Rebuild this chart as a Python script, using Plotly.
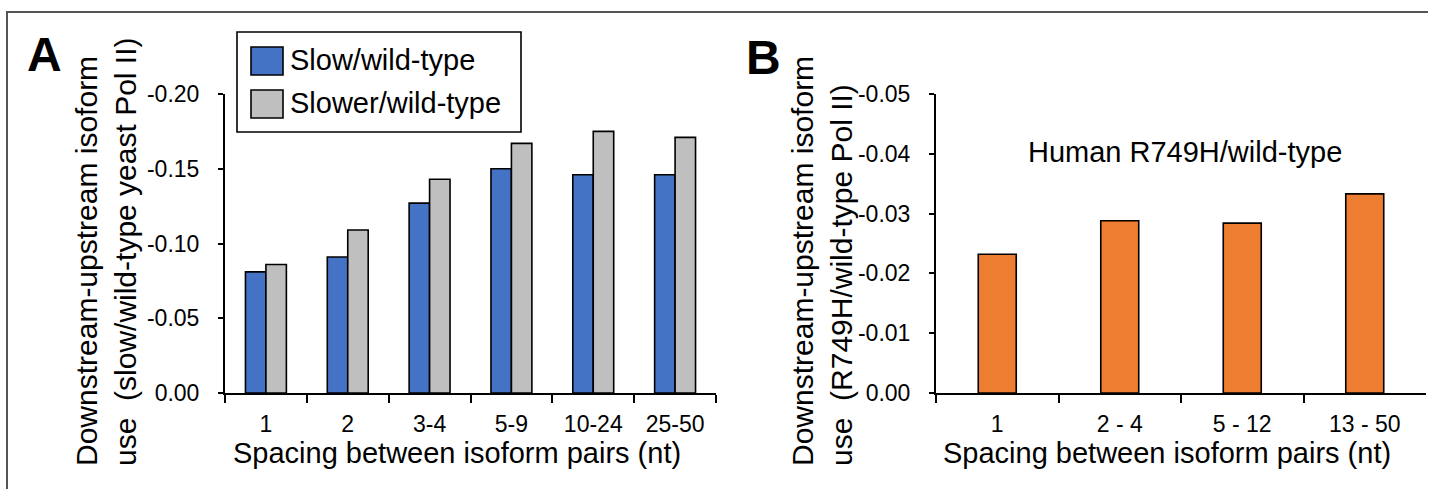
import plotly.graph_objects as go

W, H = 1434, 489

# ---------------- data ----------------
cats_a = ["1", "2", "3-4", "5-9", "10-24", "25-50"]
slow_name = "Slow/wild-type"
slower_name = "Slower/wild-type"
slow_vals = [-0.081, -0.091, -0.127, -0.150, -0.146, -0.146]
slower_vals = [-0.086, -0.109, -0.143, -0.167, -0.175, -0.171]
ticks_a = [0.0, -0.05, -0.10, -0.15, -0.20]
ticktext_a = ["0.00", "-0.05", "-0.10", "-0.15", "-0.20"]

cats_b = ["1", "2 - 4", "5 - 12", "13 - 50"]
human_name = "Human R749H/wild-type"
human_vals = [-0.0232, -0.0288, -0.0284, -0.0333]
ticks_b = [0.0, -0.01, -0.02, -0.03, -0.04, -0.05]
ticktext_b = ["0.00", "-0.01", "-0.02", "-0.03", "-0.04", "-0.05"]

BLUE = "#4472C4"
GRAY = "#BFBFBF"
ORANGE = "#ED7D31"
FONT = "Liberation Sans, Arial, Helvetica, sans-serif"


def px(x):
    return x / W


def py(y):
    return (H - y) / H


fig = go.Figure()
fig.add_trace(go.Bar(x=cats_a, y=slow_vals, name=slow_name, marker=dict(color=BLUE, line=dict(color="black", width=1.6)),
                     xaxis="x", yaxis="y", showlegend=False))
fig.add_trace(go.Bar(x=cats_a, y=slower_vals, name=slower_name, marker=dict(color=GRAY, line=dict(color="black", width=1.6)),
                     xaxis="x", yaxis="y", showlegend=False))
fig.add_trace(go.Bar(x=cats_b, y=human_vals, name=human_name, width=0.31,
                     marker=dict(color=ORANGE, line=dict(color="black", width=1.6)),
                     xaxis="x2", yaxis="y2", showlegend=False))

ydom = [py(393), py(94)]
axis_common = dict(showgrid=False, zeroline=False, showline=True, linecolor="black", linewidth=2,
                   ticks="outside", tickcolor="black", tickwidth=2, automargin=False,
                   tickfont=dict(family=FONT, size=23, color="black"))

fig.update_layout(
    width=W, height=H,
    margin=dict(l=0, r=0, t=0, b=0),
    paper_bgcolor="white", plot_bgcolor="white",
    barmode="group", bargap=0.5, bargroupgap=0,
    font=dict(family=FONT, color="black"),
    xaxis=dict(domain=[px(225), px(716)], anchor="y", type="category", tickson="boundaries",
               ticklen=8, ticklabelstandoff=9, **axis_common),
    yaxis=dict(domain=ydom, anchor="x", range=[0, -0.2], tickvals=ticks_a, ticktext=ticktext_a,
               ticklen=5, ticklabelstandoff=14, **axis_common),
    xaxis2=dict(domain=[px(936), px(1426)], anchor="y2", type="category", tickson="boundaries",
                ticklen=8, ticklabelstandoff=9, **axis_common),
    yaxis2=dict(domain=ydom, anchor="x2", range=[0, -0.05], tickvals=ticks_b, ticktext=ticktext_b,
                ticklen=5, ticklabelstandoff=14, **axis_common),
)

shapes = [
    # figure frame (top and left rules)
    dict(type="line", xref="paper", yref="paper", x0=px(6), x1=px(1428), y0=py(12), y1=py(12),
         line=dict(color="#555555", width=2)),
    dict(type="line", xref="paper", yref="paper", x0=px(7), x1=px(7), y0=py(12), y1=0,
         line=dict(color="#555555", width=2)),
    # legend box
    dict(type="rect", xref="paper", yref="paper", x0=px(237), x1=px(521), y0=py(132), y1=py(32),
         line=dict(color="black", width=1.6), fillcolor="white"),
    # legend swatches
    dict(type="rect", xref="paper", yref="paper", x0=px(251), x1=px(283), y0=py(75), y1=py(47),
         line=dict(color="black", width=1.6), fillcolor=BLUE),
    dict(type="rect", xref="paper", yref="paper", x0=px(251), x1=px(283), y0=py(118), y1=py(90),
         line=dict(color="black", width=1.6), fillcolor=GRAY),
]

ann = []
legend_font = dict(family=FONT, size=29, color="black")
title_font = dict(family=FONT, size=29, color="black")
ytitle_font = dict(family=FONT, size=30, color="black")
# panel letters
ann.append(dict(text="<b>A</b>", x=px(44), y=py(55), xref="paper", yref="paper", showarrow=False,
                font=dict(family=FONT, size=48, color="black"), xanchor="center", yanchor="middle"))
ann.append(dict(text="<b>B</b>", x=px(764), y=py(57), xref="paper", yref="paper", showarrow=False,
                font=dict(family=FONT, size=48, color="black"), xanchor="center", yanchor="middle"))
# legend labels
ann.append(dict(text=slow_name, x=px(288), y=py(60), xref="paper", yref="paper", showarrow=False,
                font=legend_font, xanchor="left", yanchor="middle"))
ann.append(dict(text=slower_name, x=px(288), y=py(103), xref="paper", yref="paper", showarrow=False,
                font=legend_font, xanchor="left", yanchor="middle"))
# panel B label
ann.append(dict(text=human_name, x=px(1185), y=py(152), xref="paper", yref="paper", showarrow=False,
                font=legend_font, xanchor="center", yanchor="middle"))
# x titles
ann.append(dict(text="Spacing between isoform pairs (nt)", x=px(457), y=py(453), xref="paper", yref="paper",
                showarrow=False, font=title_font, xanchor="center", yanchor="middle"))
ann.append(dict(text="Spacing between isoform pairs (nt)", x=px(1167), y=py(453), xref="paper", yref="paper",
                showarrow=False, font=title_font, xanchor="center", yanchor="middle"))
# y titles
ann.append(dict(text="Downstream-upstream isoform<br>use  (slow/wild-type yeast Pol II)", x=px(106), y=py(468),
                xref="paper", yref="paper", showarrow=False, font=ytitle_font, textangle=-90, align="left",
                xanchor="center", yanchor="bottom"))
ann.append(dict(text="Downstream-upstream isoform<br>use  (R749H/wild-type Pol II)", x=px(822), y=py(468),
                xref="paper", yref="paper", showarrow=False, font=ytitle_font, textangle=-90, align="left",
                xanchor="center", yanchor="bottom"))

fig.update_layout(shapes=shapes, annotations=ann)
fig.write_html("out.html")
